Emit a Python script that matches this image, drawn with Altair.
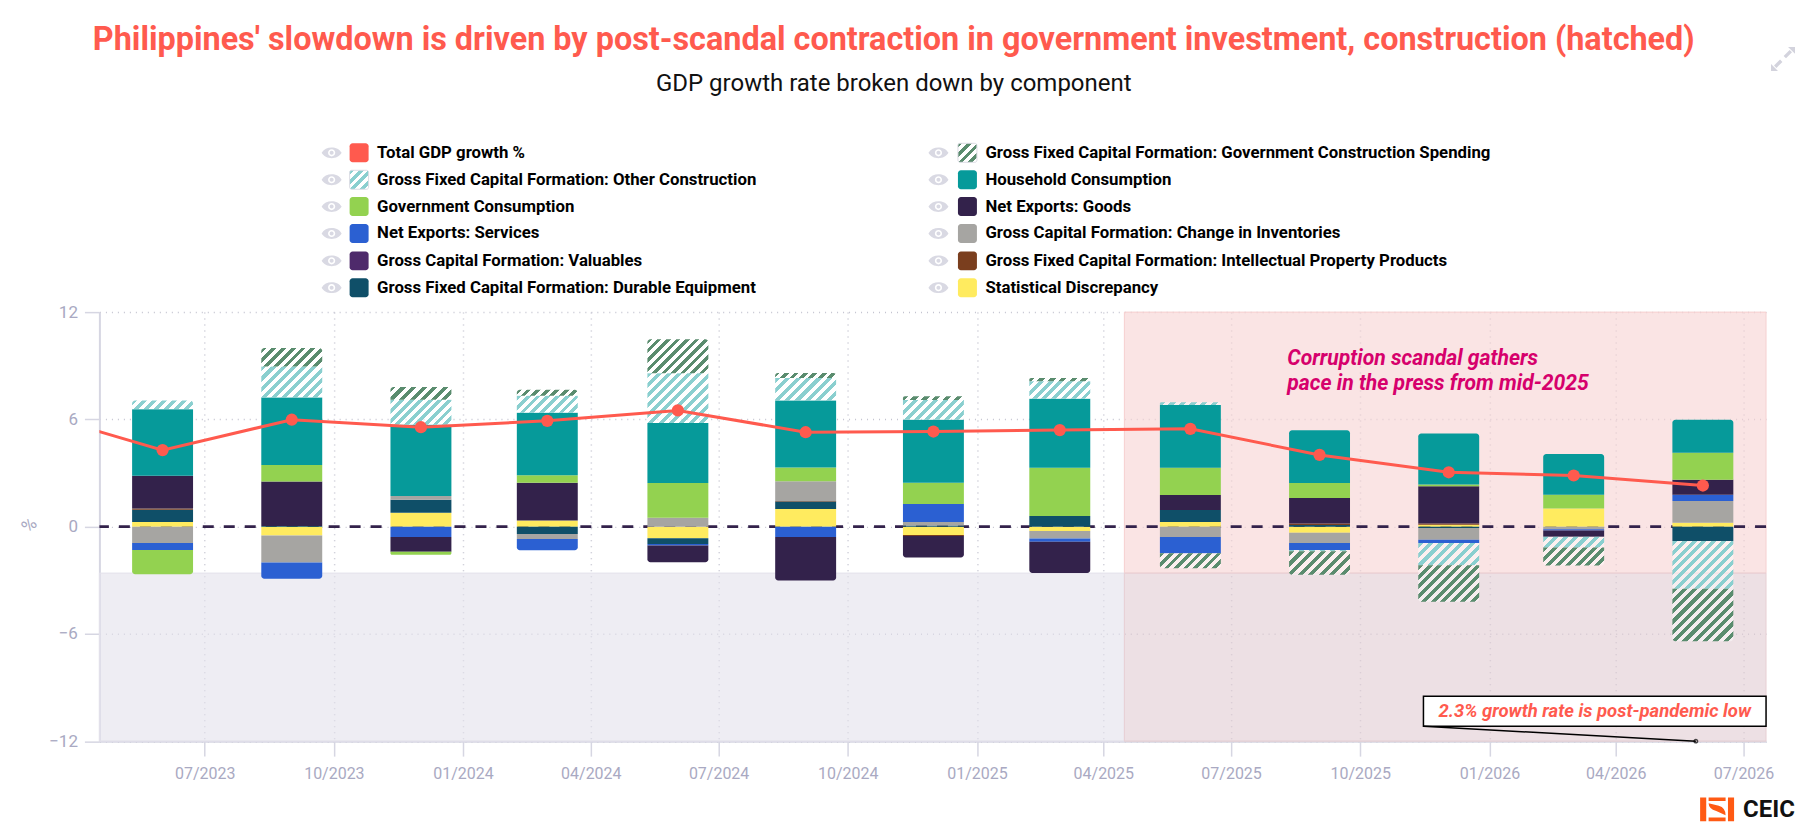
import altair as alt
import pandas as pd

# ---------- values ----------
dates = ["2023-06-01","2023-09-01","2023-12-02","2024-03-01","2024-06-02","2024-09-01","2024-12-01",
         "2025-03-01","2025-06-02","2025-09-02","2025-12-03","2026-03-02","2026-06-02"]
gov_construction = [0,1.03,.71,.34,1.90,.28,.22,.19,-.84,-1.31,-2.04,-1.01,-2.94]
other_construction = [.49,1.74,1.40,.95,2.78,1.25,1.10,.97,.15,-.07,-1.25,-.60,-2.67]
household = [3.72,3.77,3.98,3.49,3.36,3.75,3.53,3.87,3.51,2.95,2.86,2.28,1.85]
gov_consumption = [-1.36,.93,-.17,.43,1.94,.77,1.18,2.69,1.53,.84,.09,.77,1.51]
goods = [1.83,2.48,-.82,2.11,-.93,-2.43,-1.21,-1.76,.84,1.42,2.09,-.35,.84]
services = [-.39,-.90,-.58,-.63,-.09,-.58,1.01,-.17,-.91,-.39,-.17,-.07,.34]
inventories = [-.92,-1.51,.22,-.28,.50,1.10,.19,-.43,-.58,-.58,-.67,-.15,1.23]
valuables = [0,0,0,0,0,0,0,0,0,0,0,0,0]
ip_products = [.07,0,0,0,0,.04,-.05,0,0,.09,.07,0,0]
durable = [.69,.04,.73,-.41,-.32,.41,.07,.60,.67,.09,-.07,0,-.80]
discrepancy = [.26,-.50,.77,.34,-.65,.99,-.47,-.24,.26,-.34,.10,1.01,.21]
total_dates = ["2023-03-01"] + dates
total_growth = [6.4,4.28,5.98,5.56,5.92,6.50,5.28,5.32,5.40,5.47,4.01,3.04,2.86,2.3]

NAMES = {
    "con": "Gross Fixed Capital Formation: Government Construction Spending",
    "oth": "Gross Fixed Capital Formation: Other Construction",
    "hh": "Household Consumption",
    "gov": "Government Consumption",
    "goo": "Net Exports: Goods",
    "ser": "Net Exports: Services",
    "inv": "Gross Capital Formation: Change in Inventories",
    "val": "Gross Capital Formation: Valuables",
    "ip": "Gross Fixed Capital Formation: Intellectual Property Products",
    "dur": "Gross Fixed Capital Formation: Durable Equipment",
    "dis": "Statistical Discrepancy",
}
SERIES = {"con": gov_construction, "oth": other_construction, "hh": household, "gov": gov_consumption,
          "goo": goods, "ser": services, "inv": inventories, "val": valuables, "ip": ip_products,
          "dur": durable, "dis": discrepancy}
COLORS = {"con": "#5A8C6E", "oth": "#8ACFCF", "hh": "#069A9A", "gov": "#93D250", "goo": "#33224B",
          "ser": "#2B60D2", "inv": "#A6A5A2", "val": "#4E2A6B", "ip": "#7A3E1E", "dur": "#0F4F68",
          "dis": "#FFEB5F"}
TOTAL_COLOR = "#FF5A4E"
legend_left = ["Total GDP growth %", NAMES["oth"], NAMES["gov"], NAMES["ser"], NAMES["val"], NAMES["dur"]]
legend_right = [NAMES["con"], NAMES["hh"], NAMES["goo"], NAMES["inv"], NAMES["ip"], NAMES["dis"]]

# ---------- layout ----------
PX_LEFT, PX_TOP, W, H = 99.5, 312.0, 1668.5, 429.5
PX_PER_UNIT = H / 24
BAR_W = 61
FONT = "Roboto"
GRID = "#c4c4d0"
AXIS = "#d6d6e2"
LABEL = "#a9a9c2"
STACK_ORDER = ["dis", "dur", "ip", "val", "inv", "ser", "goo", "gov", "hh", "oth", "con"]


def hatch(color, w, h, period=10.0, gap="rgba(255,255,255,0.45)"):
    """45-degree stripes as a hard-stop linear gradient, so they keep the same look on any bar size."""
    s = h / w
    k = (w + h) / (w * (1 + s * s))
    n = max(1, round((w + h) / period))
    stops = []
    for i in range(n):
        a, b, c = i / n, (i + 0.5) / n, (i + 1) / n
        stops += [{"offset": a, "color": color}, {"offset": b, "color": color},
                  {"offset": b, "color": gap}, {"offset": c, "color": gap}]
    return {"gradient": "linear", "x1": 0, "y1": 0, "x2": k, "y2": k * s, "stops": stops}


rows = []
for i, d in enumerate(dates):
    pos = neg = 0.0
    bar = []
    for key in STACK_ORDER:
        v = SERIES[key][i]
        if v > 0:
            bar.append(dict(date=d + "T00:00:00", key=key, y0=pos, y1=pos + v, sign=1))
            pos += v
        elif v < 0:
            bar.append(dict(date=d + "T00:00:00", key=key, y0=neg, y1=neg + v, sign=-1))
            neg += v
    top = [b for b in bar if b["sign"] > 0]
    bot = [b for b in bar if b["sign"] < 0]
    for b in bar:
        b["cap"] = "mid"
    if top:
        top[-1]["cap"] = "top"
    if bot:
        bot[-1]["cap"] = "bottom"
    rows += bar
seg = pd.DataFrame(rows)

x_scale = alt.Scale(domain=[alt.DateTime(year=2023, month=4, date=17), alt.DateTime(year=2026, month=7, date=17)],
                    nice=False, padding=0)
y_scale = alt.Scale(domain=[-12, 12], nice=False)
X = alt.X("date:T", scale=x_scale, title=None)
Y = alt.Y("y0:Q", scale=y_scale, title=None)
color_scale = alt.Scale(domain=list(COLORS), range=list(COLORS.values()))
R = 3


def cap_args(cap):
    if cap == "top":
        return dict(cornerRadiusTopLeft=R, cornerRadiusTopRight=R)
    if cap == "bottom":
        return dict(cornerRadiusBottomLeft=R, cornerRadiusBottomRight=R)
    return {}


layers = []

# bands (semi-transparent so that the grid shows through)
band_date0 = "2023-04-17T00:00:00"
band_date1 = "2025-04-16T00:00:00"
band_date2 = "2026-07-17T00:00:00"
band_low = -2.6
bands = pd.DataFrame([
    dict(date=band_date1, d2=band_date2, y0=band_low, y1=12, c="rgba(247,210,210,0.6)", s="#f6d0d0"),
    dict(date=band_date0, d2=band_date1, y0=-12, y1=band_low, c="rgba(227,225,235,0.6)", s="#e3e1eb"),
    dict(date=band_date1, d2=band_date2, y0=-12, y1=band_low, c="rgba(225,203,210,0.6)", s="#e8d0d4"),
])
axis_layer = alt.Chart(bands).mark_rect(strokeWidth=1).encode(
    x=alt.X("date:T", scale=x_scale, title=None, axis=alt.Axis(
        tickCount={"interval": "month", "step": 3}, format="%m/%Y", grid=True, gridDash=[1, 5], gridColor=GRID,
        gridWidth=1.5, domainColor=AXIS, domainWidth=2, tickColor=AXIS, tickSize=15, tickWidth=1.5,
        labelColor=LABEL, labelFont=FONT, labelFontSize=16, labelPadding=9, labelFlush=False, labelOverlap=False)),
    x2="d2:T",
    y=alt.Y("y0:Q", scale=y_scale, title=None, axis=alt.Axis(
        values=[-12, -6, 0, 6, 12], grid=True, gridDash=[1, 5], gridColor=GRID, gridWidth=1.5,
        domainColor=AXIS, domainWidth=2, tickColor=AXIS, tickSize=15, tickWidth=1.5,
        labelColor=LABEL, labelFont=FONT, labelFontSize=17, labelPadding=7)),
    y2="y1:Q",
    fill=alt.Fill("c:N", scale=None),
    stroke=alt.Stroke("s:N", scale=None),
)
layers.append(axis_layer)

# zero line
layers.append(alt.Chart(pd.DataFrame({"v": [0]})).mark_rule(color="#33224B", strokeWidth=2.8, strokeDash=[11, 10]).encode(
    y=alt.Y("v:Q", scale=y_scale, title=None)))

# solid segments, one layer per kind of corner
solid = seg[~seg["key"].isin(["con", "oth"])]
for cap in ["mid", "top", "bottom"]:
    part = solid[solid["cap"] == cap]
    if len(part):
        layers.append(alt.Chart(part).mark_bar(width=BAR_W, **cap_args(cap)).encode(
            x=X, y=Y, y2="y1:Q",
            color=alt.Color("key:N", scale=color_scale, legend=None)))

# hatched segments, each with a gradient for its own height
for rec in seg[seg["key"].isin(["con", "oth"])].to_dict("records"):
    h_px = abs(rec["y1"] - rec["y0"]) * PX_PER_UNIT
    layers.append(alt.Chart(pd.DataFrame([rec])).mark_bar(
        width=BAR_W, fill=hatch(COLORS[rec["key"]], BAR_W, h_px), **cap_args(rec["cap"])).encode(
        x=X, y=Y, y2="y1:Q"))

# total line and dots
tot = pd.DataFrame({"date": [d + "T00:00:00" for d in total_dates], "v": total_growth})
YT = alt.Y("v:Q", scale=y_scale, title=None)
layers.append(alt.Chart(tot).mark_line(color=TOTAL_COLOR, strokeWidth=3, clip=True).encode(x=X, y=YT))
layers.append(alt.Chart(tot).mark_circle(color=TOTAL_COLOR, size=150, opacity=1, clip=True).encode(x=X, y=YT))

# scandal note
note = pd.DataFrame({"date": ["2025-08-10T00:00:00"] * 2, "v": [9.4, 8.0],
                     "t": ["Corruption scandal gathers", "pace in the press from mid-2025"]})
layers.append(alt.Chart(note).mark_text(align="left", baseline="middle", font=FONT, fontSize=21.2, fontStyle="italic",
                                        fontWeight="bold", color="#D6006C").encode(x=X, y=YT, text="t:N"))

# call-out box
box = pd.DataFrame({"date": ["2025-11-15T00:00:00"], "d2": ["2026-07-17T00:00:00"], "y0": [-11.17], "y1": [-9.49]})
layers.append(alt.Chart(box).mark_rect(fill="white", stroke="black", strokeWidth=1.5).encode(
    x=X, x2="d2:T", y=Y, y2="y1:Q"))
leader = pd.DataFrame({"date": ["2025-11-15T00:00:00"], "d2": ["2026-05-28T00:00:00"], "y0": [-11.17], "y1": [-12]})
layers.append(alt.Chart(leader).mark_rule(color="black", strokeWidth=1.5).encode(x=X, x2="d2:T", y=Y, y2="y1:Q"))
layers.append(alt.Chart(leader).mark_point(color="black", size=12, strokeWidth=1.5, filled=False).encode(
    x=alt.X("d2:T", scale=x_scale, title=None),
    y=alt.Y("y1:Q", scale=y_scale, title=None)))
callout = pd.DataFrame({"date": ["2026-03-17T00:00:00"], "v": [-10.33], "t": ["2.3% growth rate is post-pandemic low"]})
layers.append(alt.Chart(callout).mark_text(align="center", baseline="middle", font=FONT, fontSize=18.5, fontStyle="italic",
                                           fontWeight="bold", color=TOTAL_COLOR).encode(x=X, y=YT, text="t:N"))

# ---------- hand-built legend, positioned in page pixels ----------
PXX = alt.X("px:Q", scale=None, title=None)
PXY = alt.Y("py:Q", scale=None, title=None)
ROW_Y = [152.5, 179.5, 206.3, 233.3, 260.7, 287.5]
COLS = [(332, 359.5, 377.5, legend_left), (939.5, 968.5, 986.5, legend_right)]
NAME_KEY = {v: k for k, v in NAMES.items()}
leg = []
for eye_x, sw_x, tx_x, names in COLS:
    for ry, name in zip(ROW_Y, names):
        leg.append(dict(ex=eye_x - PX_LEFT, px=sw_x - 9.5 - PX_LEFT, px2=sw_x + 9.5 - PX_LEFT, tx=tx_x - PX_LEFT,
                        py=ry - 9.5 - PX_TOP, py2=ry + 9.5 - PX_TOP, cy=ry - PX_TOP, name=name,
                        key=NAME_KEY.get(name, "tot")))
leg = pd.DataFrame(leg)
EYE = ("M-1 0C-.62 -.72 .62 -.72 1 0C.62 .72 -.62 .72 -1 0Z"
       "M0 -.36A.36 .36 0 1 0 0 .36A.36 .36 0 1 0 0 -.36Z"
       "M0 -.2A.2 .2 0 1 1 0 .2A.2 .2 0 1 1 0 -.2Z")
layers.append(alt.Chart(leg).mark_point(shape=EYE, filled=True, size=400, color="#d9d9e3", opacity=1, strokeWidth=0).encode(
    x=alt.X("ex:Q", scale=None, title=None), y=alt.Y("cy:Q", scale=None, title=None)))
swatch_solid = leg[~leg["key"].isin(["con", "oth"])].copy()
swatch_solid["fillc"] = [COLORS.get(k, TOTAL_COLOR) for k in swatch_solid["key"]]
layers.append(alt.Chart(swatch_solid).mark_rect(cornerRadius=3).encode(
    x=PXX, x2="px2:Q", y=PXY, y2="py2:Q", fill=alt.Fill("fillc:N", scale=None)))
for key in ["con", "oth"]:
    part = leg[leg["key"] == key]
    layers.append(alt.Chart(part).mark_rect(cornerRadius=2, fill=hatch(COLORS[key], 19, 19, period=9, gap="white"),
                                            stroke="#dcdce4", strokeWidth=1).encode(
        x=PXX, x2="px2:Q", y=PXY, y2="py2:Q"))
layers.append(alt.Chart(leg).mark_text(align="left", baseline="middle", font=FONT, fontSize=16.8, fontWeight="bold",
                                       color="black").encode(
    x=alt.X("tx:Q", scale=None, title=None), y=alt.Y("cy:Q", scale=None, title=None), text="name:N"))

# y-axis unit label
layers.append(alt.Chart(pd.DataFrame({"px": [30 - PX_LEFT], "py": [526 - PX_TOP], "t": ["%"]})).mark_text(
    align="center", baseline="middle", angle=315, font=FONT, fontSize=18, color=LABEL).encode(x=PXX, y=PXY, text="t:N"))

# expand icon and logo
EXPAND = ("M-1 1V.42L-.42 1ZM-.75 .55L-.25 .05L-.05 .25L-.55 .75Z"
          "M1 -1V-.42L.42 -1ZM.75 -.55L.25 -.05L.05 -.25L.55 -.75Z")
LOGO = ("M-1 -.7H-.64V.7H-1ZM.64 -.7H1V.7H.64Z"
        "M-.5 -.7H.5V-.48H-.5ZM-.5 .48H.5V.7H-.5Z"
        "M-.5 -.36L.1 -.2Q.5 -.08 .5 .36L-.05 .1Q-.5 -.04 -.5 -.36Z")
icons = [(1785, 58.5, EXPAND, 576, "#d3d3dd"), (1719, 809.7, LOGO, 1156, "#FF5A14")]
for ix, iy, path, size, col in icons:
    layers.append(alt.Chart(pd.DataFrame({"px": [ix - PX_LEFT], "py": [iy - PX_TOP]})).mark_point(
        shape=path, filled=True, size=size, color=col, opacity=1, strokeWidth=0).encode(x=PXX, y=PXY))
layers.append(alt.Chart(pd.DataFrame({"px": [1745 - PX_LEFT], "py": [810 - PX_TOP], "t": ["CEIC"]})).mark_text(
    align="left", baseline="middle", font=FONT, fontSize=24, fontWeight="bold", color="#111111").encode(
    x=PXX, y=PXY, text="t:N"))

chart = alt.layer(*layers).properties(
    width=W, height=H,
    background="white",
    autosize=alt.AutoSizeParams(type="none"),
    padding={"left": PX_LEFT - 8, "top": PX_TOP - 8, "right": 38, "bottom": 82},
    title=alt.TitleParams(
        text="Philippines' slowdown is driven by post-scandal contraction in government investment, construction (hatched)",
        subtitle="GDP growth rate broken down by component",
        anchor="middle", dx=-39, offset=-49, font=FONT, fontSize=32.4, fontWeight="bold", color=TOTAL_COLOR,
        subtitleFont=FONT, subtitleFontSize=24, subtitleColor="#111111", subtitlePadding=16),
).configure_view(stroke=None)

chart.save("out.html", embed_options={"renderer": "svg", "actions": False})
